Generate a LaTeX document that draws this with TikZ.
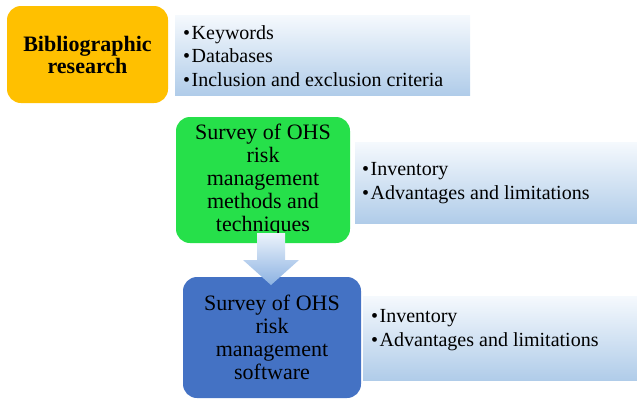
\documentclass[tikz,border=0pt]{standalone}
\usepackage{fontspec}
\setmainfont{Liberation Serif}
\definecolor{orangebox}{RGB}{255,192,0}
\definecolor{greenbox}{RGB}{38,224,74}
\definecolor{bluebox}{RGB}{68,114,196}
\definecolor{listtop}{RGB}{245,249,253}
\definecolor{listbot}{RGB}{176,204,233}
\definecolor{arrtop}{RGB}{236,243,251}
\definecolor{arrbot}{RGB}{140,178,226}
\begin{document}
\begin{tikzpicture}[x=1pt,y=-1pt,
  stage/.style={rounded corners=14pt, inner sep=0pt, align=center, text=black,
    font=\fontsize{22}{22.8}\selectfont},
  listbox/.style={inner sep=0pt, top color=listtop, bottom color=listbot, draw=none,
    align=left, anchor=north west},
  listtext/.style={inner sep=0pt, align=left, anchor=west, font=\fontsize{20}{23.5}\selectfont}
]
\useasboundingbox (0,0) rectangle (637,399);
% stage boxes
\node[stage, fill=orangebox, minimum width=161pt, minimum height=97pt,
  font=\fontsize{22}{22}\selectfont\bfseries] (bib) at (87.5,54.5) {Bibliographic\\research};
\node[stage, fill=greenbox, minimum width=174pt, minimum height=126pt] (meth) at (263,180)
  {Survey of OHS\\risk\\management\\methods and\\techniques};
\node[stage, fill=bluebox, minimum width=178pt, minimum height=121pt] (soft) at (272,337.5)
  {Survey of OHS\\risk\\management\\software};
% list boxes
\node[listbox, minimum width=295pt, minimum height=80pt] (l1) at (175,15) {};
\node[listtext] (t1) at (183,56) {\textbullet\hspace{1.5pt}Keywords\\\textbullet\hspace{1.5pt}Databases\\\textbullet\hspace{1.5pt}Inclusion and exclusion criteria};
\node[listbox, minimum width=282pt, minimum height=81pt] (l2) at (355,142) {};
\node[listtext] (t2) at (362,183) {\textbullet\hspace{1.5pt}Inventory\\\textbullet\hspace{1.5pt}Advantages and limitations};
\node[listbox, minimum width=274pt, minimum height=84pt] (l3) at (363,296) {};
\node[listtext] (t3) at (371,330) {\textbullet\hspace{1.5pt}Inventory\\\textbullet\hspace{1.5pt}Advantages and limitations};
% block arrow from meth to soft
\coordinate (atop) at (271,233);
\coordinate (atip) at (271,285);
\shade[top color=arrtop, bottom color=arrbot]
  ([xshift=-14pt]atop) -- ([xshift=14pt]atop) -- ([xshift=14pt,yshift=-27pt]atop)
  -- ([xshift=28pt,yshift=-27pt]atop) -- (atip) -- ([xshift=-28pt,yshift=-27pt]atop)
  -- ([xshift=-14pt,yshift=-27pt]atop) -- cycle;
\end{tikzpicture}
\end{document}
